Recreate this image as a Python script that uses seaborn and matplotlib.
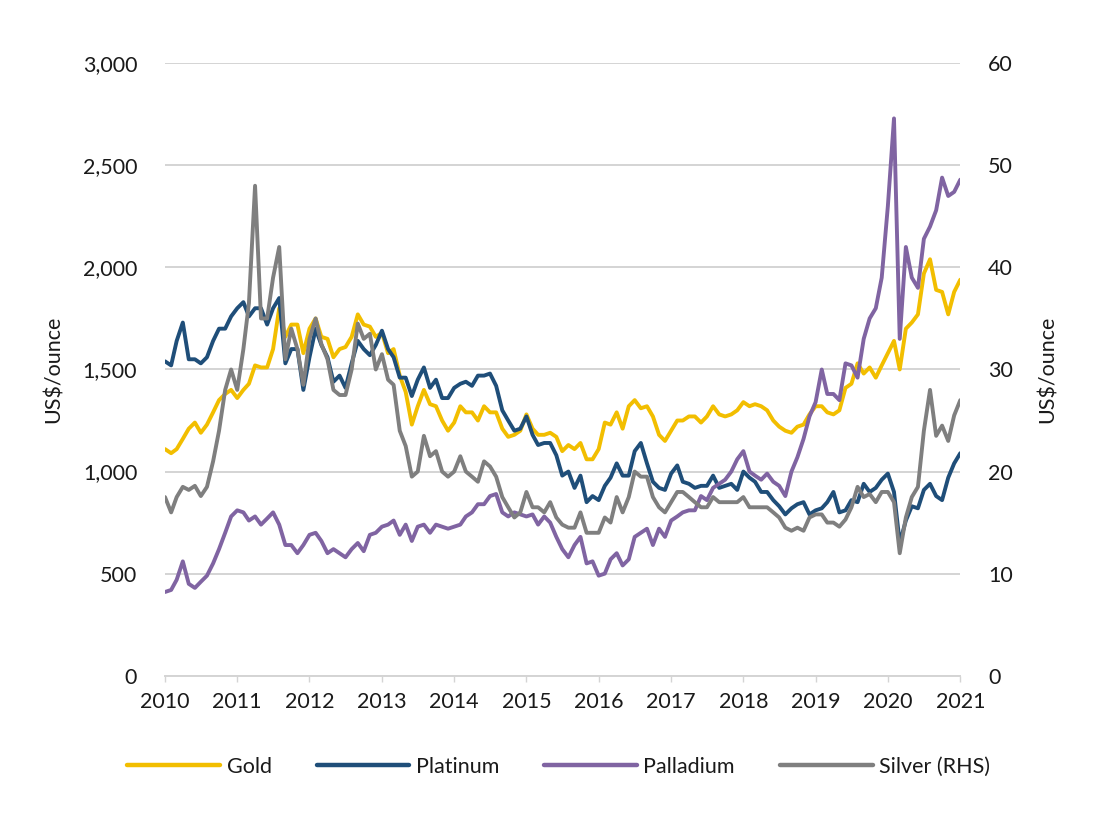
import numpy as np
import pandas as pd
import matplotlib
matplotlib.use("Agg")
import matplotlib.pyplot as plt
import matplotlib.dates as mdates
from matplotlib.ticker import FuncFormatter, MultipleLocator
from matplotlib.lines import Line2D
import seaborn as sns

sns.set_theme(style="white")
plt.rcParams['font.family'] = ['Lato', 'DejaVu Sans']

# Monthly points, Jan 2010 .. Jan 2021
months = pd.date_range("2010-01-01", "2021-01-01", freq="MS")

gold = [1110, 1090, 1110, 1160, 1210, 1240, 1190, 1230, 1290, 1350, 1380, 1400,
        1360, 1400, 1430, 1520, 1510, 1510, 1600, 1800, 1660, 1720, 1720, 1580,
        1700, 1750, 1660, 1650, 1560, 1600, 1610, 1660, 1770, 1720, 1710, 1660,
        1680, 1580, 1600, 1470, 1390, 1230, 1320, 1400, 1330, 1320, 1250, 1200,
        1240, 1320, 1290, 1290, 1250, 1320, 1290, 1290, 1210, 1170, 1180, 1200,
        1280, 1210, 1180, 1180, 1190, 1170, 1100, 1130, 1110, 1140, 1060, 1060,
        1110, 1240, 1230, 1290, 1210, 1320, 1350, 1310, 1320, 1270, 1180, 1150,
        1200, 1250, 1250, 1270, 1270, 1240, 1270, 1320, 1280, 1270, 1280, 1300,
        1340, 1320, 1330, 1320, 1300, 1250, 1220, 1200, 1190, 1220, 1230, 1280,
        1320, 1320, 1290, 1280, 1300, 1410, 1430, 1530, 1480, 1510, 1460, 1520,
        1580, 1640, 1500, 1700, 1730, 1770, 1970, 2040, 1890, 1880, 1770, 1880,
        1940]

platinum = [1540, 1520, 1640, 1730, 1550, 1550, 1530, 1560, 1640, 1700, 1700, 1760,
            1800, 1830, 1760, 1800, 1800, 1720, 1800, 1850, 1530, 1600, 1600, 1400,
            1560, 1700, 1620, 1560, 1440, 1470, 1410, 1530, 1640, 1600, 1570, 1620,
            1690, 1600, 1560, 1460, 1460, 1370, 1450, 1510, 1410, 1450, 1360, 1360,
            1410, 1430, 1440, 1420, 1470, 1470, 1480, 1420, 1300, 1250, 1200, 1210,
            1270, 1180, 1130, 1140, 1140, 1080, 980, 1000, 920, 980, 850, 880,
            860, 930, 970, 1040, 980, 980, 1100, 1140, 1040, 950, 920, 910,
            990, 1030, 950, 940, 920, 930, 930, 980, 920, 930, 940, 910,
            1000, 970, 950, 900, 900, 860, 830, 790, 820, 840, 850, 790,
            810, 820, 850, 900, 800, 810, 860, 850, 940, 900, 920, 960,
            990, 900, 650, 760, 830, 820, 910, 940, 880, 860, 970, 1040,
            1090]

palladium = [410, 420, 470, 560, 450, 430, 460, 490, 550, 620, 700, 780,
             810, 800, 760, 780, 740, 770, 800, 740, 640, 640, 600, 640,
             690, 700, 660, 600, 620, 600, 580, 620, 650, 610, 690, 700,
             730, 740, 760, 690, 740, 660, 730, 740, 700, 740, 730, 720,
             730, 740, 780, 800, 840, 840, 880, 890, 800, 780, 800, 790,
             780, 790, 740, 780, 750, 680, 620, 580, 640, 680, 550, 560,
             490, 500, 570, 600, 540, 570, 680, 700, 720, 640, 720, 680,
             760, 780, 800, 810, 810, 880, 860, 920, 940, 960, 1000, 1060,
             1100, 1000, 980, 960, 990, 950, 930, 880, 1000, 1070, 1160, 1270,
             1340, 1500, 1380, 1380, 1350, 1530, 1520, 1460, 1650, 1750, 1800, 1950,
             2300, 2730, 1650, 2100, 1950, 1900, 2140, 2200, 2280, 2440, 2350, 2370,
             2430]

silver = [17.5, 16.0, 17.5, 18.5, 18.2, 18.6, 17.6, 18.5, 21.0, 24.0, 28.0, 30.0,
          28.0, 32.0, 36.5, 48.0, 35.0, 35.0, 39.0, 42.0, 31.0, 34.0, 32.0, 28.5,
          33.0, 35.0, 32.5, 31.0, 28.0, 27.5, 27.5, 30.0, 34.5, 33.0, 33.5, 30.0,
          31.5, 29.0, 28.5, 24.0, 22.5, 19.5, 20.0, 23.5, 21.5, 22.0, 20.0, 19.5,
          20.0, 21.5, 20.0, 19.5, 19.0, 21.0, 20.5, 19.5, 17.5, 16.5, 15.5, 16.0,
          18.0, 16.5, 16.5, 16.0, 17.0, 15.5, 14.8, 14.5, 14.5, 16.0, 14.0, 14.0,
          14.0, 15.5, 15.0, 17.5, 16.0, 17.5, 20.0, 19.5, 19.5, 17.5, 16.5, 16.0,
          17.0, 18.0, 18.0, 17.5, 17.0, 16.5, 16.5, 17.5, 17.0, 17.0, 17.0, 17.0,
          17.5, 16.5, 16.5, 16.5, 16.5, 16.0, 15.5, 14.5, 14.2, 14.5, 14.2, 15.5,
          15.8, 15.8, 15.0, 15.0, 14.6, 15.3, 16.5, 18.5, 17.5, 17.8, 17.0, 18.0,
          18.0, 17.0, 12.0, 15.5, 17.5, 18.5, 24.0, 28.0, 23.5, 24.5, 23.0, 25.5,
          27.0]

year_ticks = list(range(2010, 2022))
left_ticks = [0, 500, 1000, 1500, 2000, 2500, 3000]
right_ticks = [0, 10, 20, 30, 40, 50, 60]

colors = {"Gold": "#F2BE00", "Platinum": "#1F4E79",
          "Palladium": "#8064A2", "Silver (RHS)": "#7F7F7F"}

df = pd.DataFrame({"date": months, "Gold": gold, "Platinum": platinum,
                   "Palladium": palladium, "Silver": silver})

fig = plt.figure(figsize=(11, 8.22), dpi=100)
ax = fig.add_axes([0.15, 0.178, 0.723, 0.745])
ax2 = ax.twinx()

lw = 2.8
sns.lineplot(data=df, x="date", y="Gold", ax=ax, color=colors["Gold"], lw=lw, legend=False)
sns.lineplot(data=df, x="date", y="Platinum", ax=ax, color=colors["Platinum"], lw=lw, legend=False)
sns.lineplot(data=df, x="date", y="Palladium", ax=ax, color=colors["Palladium"], lw=lw, legend=False)
sns.lineplot(data=df, x="date", y="Silver", ax=ax2, color=colors["Silver (RHS)"], lw=lw, legend=False)

ax.set_ylim(0, 3000)
ax2.set_ylim(0, 60)
ax.set_yticks(left_ticks)
ax2.set_yticks(right_ticks)
ax.yaxis.set_major_formatter(FuncFormatter(lambda v, p: f"{int(v):,}"))
ax2.yaxis.set_major_formatter(FuncFormatter(lambda v, p: f"{int(v)}"))

ax.set_xlim(pd.Timestamp("2010-01-01"), pd.Timestamp("2021-01-01"))
ax.set_xticks([pd.Timestamp(f"{y}-01-01") for y in year_ticks])
ax.set_xticklabels([str(y) for y in year_ticks])

ax.grid(axis="y", color="#d4d4d4", lw=1.4)
ax.grid(axis="x", visible=False)
ax2.grid(False)
ax.set_axisbelow(True)

for a in (ax, ax2):
    for s in a.spines.values():
        s.set_visible(False)
ax.spines["bottom"].set_visible(True)
ax.spines["bottom"].set_color("#d4d4d4")
ax.spines["bottom"].set_linewidth(1.4)

fs = 15.5
txt = "#1a1a1a"
ax.tick_params(axis="x", bottom=True, length=4, width=1, color="#d4d4d4",
               labelsize=fs, labelcolor=txt, pad=8)
ax.tick_params(axis="y", left=False, labelsize=fs, labelcolor=txt, pad=14)
ax2.tick_params(axis="y", right=False, labelsize=fs, labelcolor=txt, pad=14)

ax.set_xlabel("")
ax.set_ylabel("US$/ounce", fontsize=fs, color=txt, labelpad=14)
ax2.set_ylabel("US$/ounce", fontsize=fs, color=txt, labelpad=18)

handles = [Line2D([0], [0], color=c, lw=3.2) for c in colors.values()]
fig.legend(handles, list(colors.keys()), loc="center", bbox_to_anchor=(0.508, 0.067),
           ncol=4, frameon=False, fontsize=fs, handlelength=4.3, handletextpad=0.3,
           columnspacing=2.1, labelcolor=txt)

fig.savefig("out.png", dpi=100, facecolor="white")
